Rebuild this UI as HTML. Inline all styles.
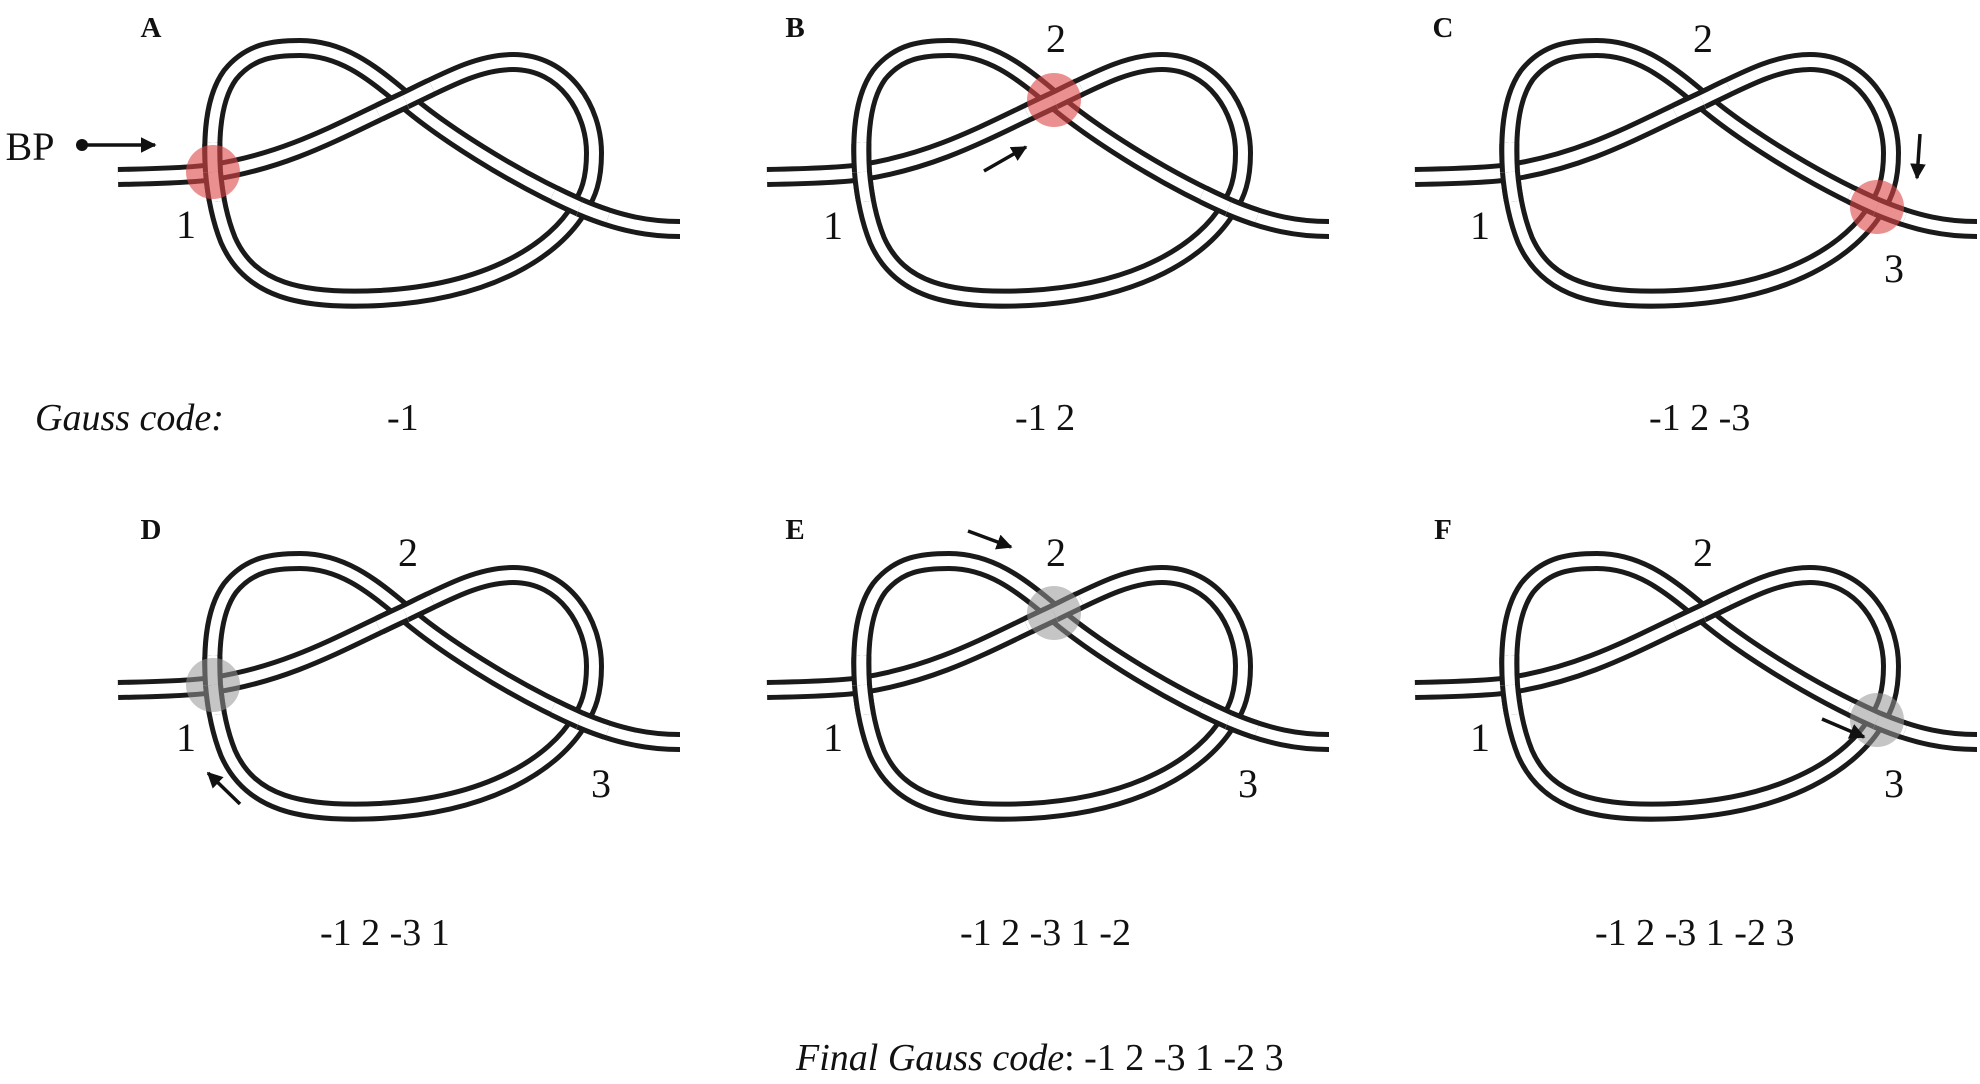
<!DOCTYPE html>
<html><head><meta charset="utf-8"><style>
html,body{margin:0;padding:0;background:#fff;}
svg{display:block;}
text{font-family:"Liberation Serif",serif;fill:#111;}
</style></head><body>
<svg width="1980" height="1084" viewBox="0 0 1980 1084" xmlns="http://www.w3.org/2000/svg">
<defs>
<path id="s1" d="M118,177 C170,176 200,174 213,172"/>
<path id="s2" d="M213,172 C290,160 340,130 405,100"/>
<path id="s3" d="M405,100 C450,78 480,62 513,62 C565,62 594,110 594,153 C594,180 588,195 580,207"/>
<path id="s4" d="M580,207 C555,250 490,292 380,298 C300,302 250,290 228,240 C220,220 215,195 213,172"/>
<path id="s5" d="M213,172 C211,140 212,100 230,75 C250,50 275,48 300,48 C340,48 370,70 405,100"/>
<path id="s6" d="M405,100 C440,130 510,176 580,207"/>
<path id="s7" d="M580,207 C620,224 650,229 680,229"/>
<clipPath id="c1" clipPathUnits="userSpaceOnUse"><circle cx="213" cy="172" r="30"/></clipPath>
<clipPath id="c2" clipPathUnits="userSpaceOnUse"><circle cx="405" cy="100" r="30"/></clipPath>
<clipPath id="c3" clipPathUnits="userSpaceOnUse"><circle cx="580" cy="207" r="30"/></clipPath>
<g id="knot" fill="none">
  <g stroke="#1a1a1a" stroke-width="20">
    <use href="#s1"/><use href="#s2"/><use href="#s3"/><use href="#s4"/><use href="#s5"/><use href="#s6"/><use href="#s7"/>
  </g>
  <g stroke="#fff" stroke-width="10">
    <use href="#s1"/><use href="#s2"/><use href="#s3"/><use href="#s4"/><use href="#s5"/><use href="#s6"/><use href="#s7"/>
  </g>
  <g clip-path="url(#c1)">
    <use href="#s4" stroke="#1a1a1a" stroke-width="20"/><use href="#s5" stroke="#1a1a1a" stroke-width="20"/>
    <use href="#s4" stroke="#fff" stroke-width="10"/><use href="#s5" stroke="#fff" stroke-width="10"/>
  </g>
  <g clip-path="url(#c2)">
    <use href="#s2" stroke="#1a1a1a" stroke-width="20"/><use href="#s3" stroke="#1a1a1a" stroke-width="20"/>
    <use href="#s2" stroke="#fff" stroke-width="10"/><use href="#s3" stroke="#fff" stroke-width="10"/>
  </g>
  <g clip-path="url(#c3)">
    <use href="#s6" stroke="#1a1a1a" stroke-width="20"/><use href="#s7" stroke="#1a1a1a" stroke-width="20"/>
    <use href="#s6" stroke="#fff" stroke-width="10"/><use href="#s7" stroke="#fff" stroke-width="10"/>
  </g>
</g>
<marker id="ah" viewBox="0 0 10 10" refX="9" refY="5" markerWidth="4.5" markerHeight="4.5" orient="auto">
  <path d="M0,0 L10,5 L0,10 z" fill="#111"/>
</marker>
</defs>

<use href="#knot"/>
<use href="#knot" transform="translate(649,0)"/>
<use href="#knot" transform="translate(1297,0)"/>
<use href="#knot" transform="translate(0,513)"/>
<use href="#knot" transform="translate(649,513)"/>
<use href="#knot" transform="translate(1297,513)"/>

<circle cx="213" cy="172" r="27" fill="rgba(222,70,70,0.6)"/>
<circle cx="1054" cy="100" r="27" fill="rgba(222,70,70,0.6)"/>
<circle cx="1877" cy="207" r="27" fill="rgba(222,70,70,0.6)"/>
<circle cx="213" cy="685" r="27" fill="rgba(150,150,150,0.55)"/>
<circle cx="1054" cy="613" r="27" fill="rgba(150,150,150,0.55)"/>
<circle cx="1877" cy="720" r="27" fill="rgba(150,150,150,0.55)"/>

<g stroke="#111" stroke-width="3.5" fill="none" marker-end="url(#ah)">
  <line x1="84" y1="145" x2="155" y2="145"/>
  <line x1="984" y1="171" x2="1026" y2="147"/>
  <line x1="1920" y1="134" x2="1917" y2="178"/>
  <line x1="240" y1="804" x2="208" y2="773"/>
  <line x1="968" y1="531" x2="1011" y2="547"/>
  <line x1="1822" y1="719" x2="1864" y2="737"/>
</g>
<circle cx="82" cy="145" r="6" fill="#111"/>

<g font-weight="bold" font-size="29" text-anchor="middle">
  <text x="151" y="37">A</text>
  <text x="795" y="37">B</text>
  <text x="1443" y="37">C</text>
  <text x="151" y="539">D</text>
  <text x="795" y="539">E</text>
  <text x="1443" y="539">F</text>
</g>

<g font-size="40" text-anchor="middle">
  <text x="30" y="160">BP</text>
  <text x="186" y="238">1</text>
  <text x="1056" y="52">2</text>
  <text x="833" y="239">1</text>
  <text x="1703" y="52">2</text>
  <text x="1480" y="239">1</text>
  <text x="1894" y="282">3</text>
  <text x="408" y="566">2</text>
  <text x="186" y="751">1</text>
  <text x="601" y="797">3</text>
  <text x="1056" y="566">2</text>
  <text x="833" y="751">1</text>
  <text x="1248" y="797">3</text>
  <text x="1703" y="566">2</text>
  <text x="1480" y="751">1</text>
  <text x="1894" y="797">3</text>
</g>

<g font-size="38">
  <text x="35" y="430" font-style="italic">Gauss code:</text>
  <text x="387" y="430">-1</text>
  <text x="1015" y="430">-1 2</text>
  <text x="1649" y="430">-1 2 -3</text>
  <text x="320" y="945">-1 2 -3 1</text>
  <text x="960" y="945">-1 2 -3 1 -2</text>
  <text x="1595" y="945">-1 2 -3 1 -2 3</text>
  <text x="796" y="1070"><tspan font-style="italic">Final Gauss code</tspan>: -1 2 -3 1 -2 3</text>
</g>
</svg>
</body></html>
